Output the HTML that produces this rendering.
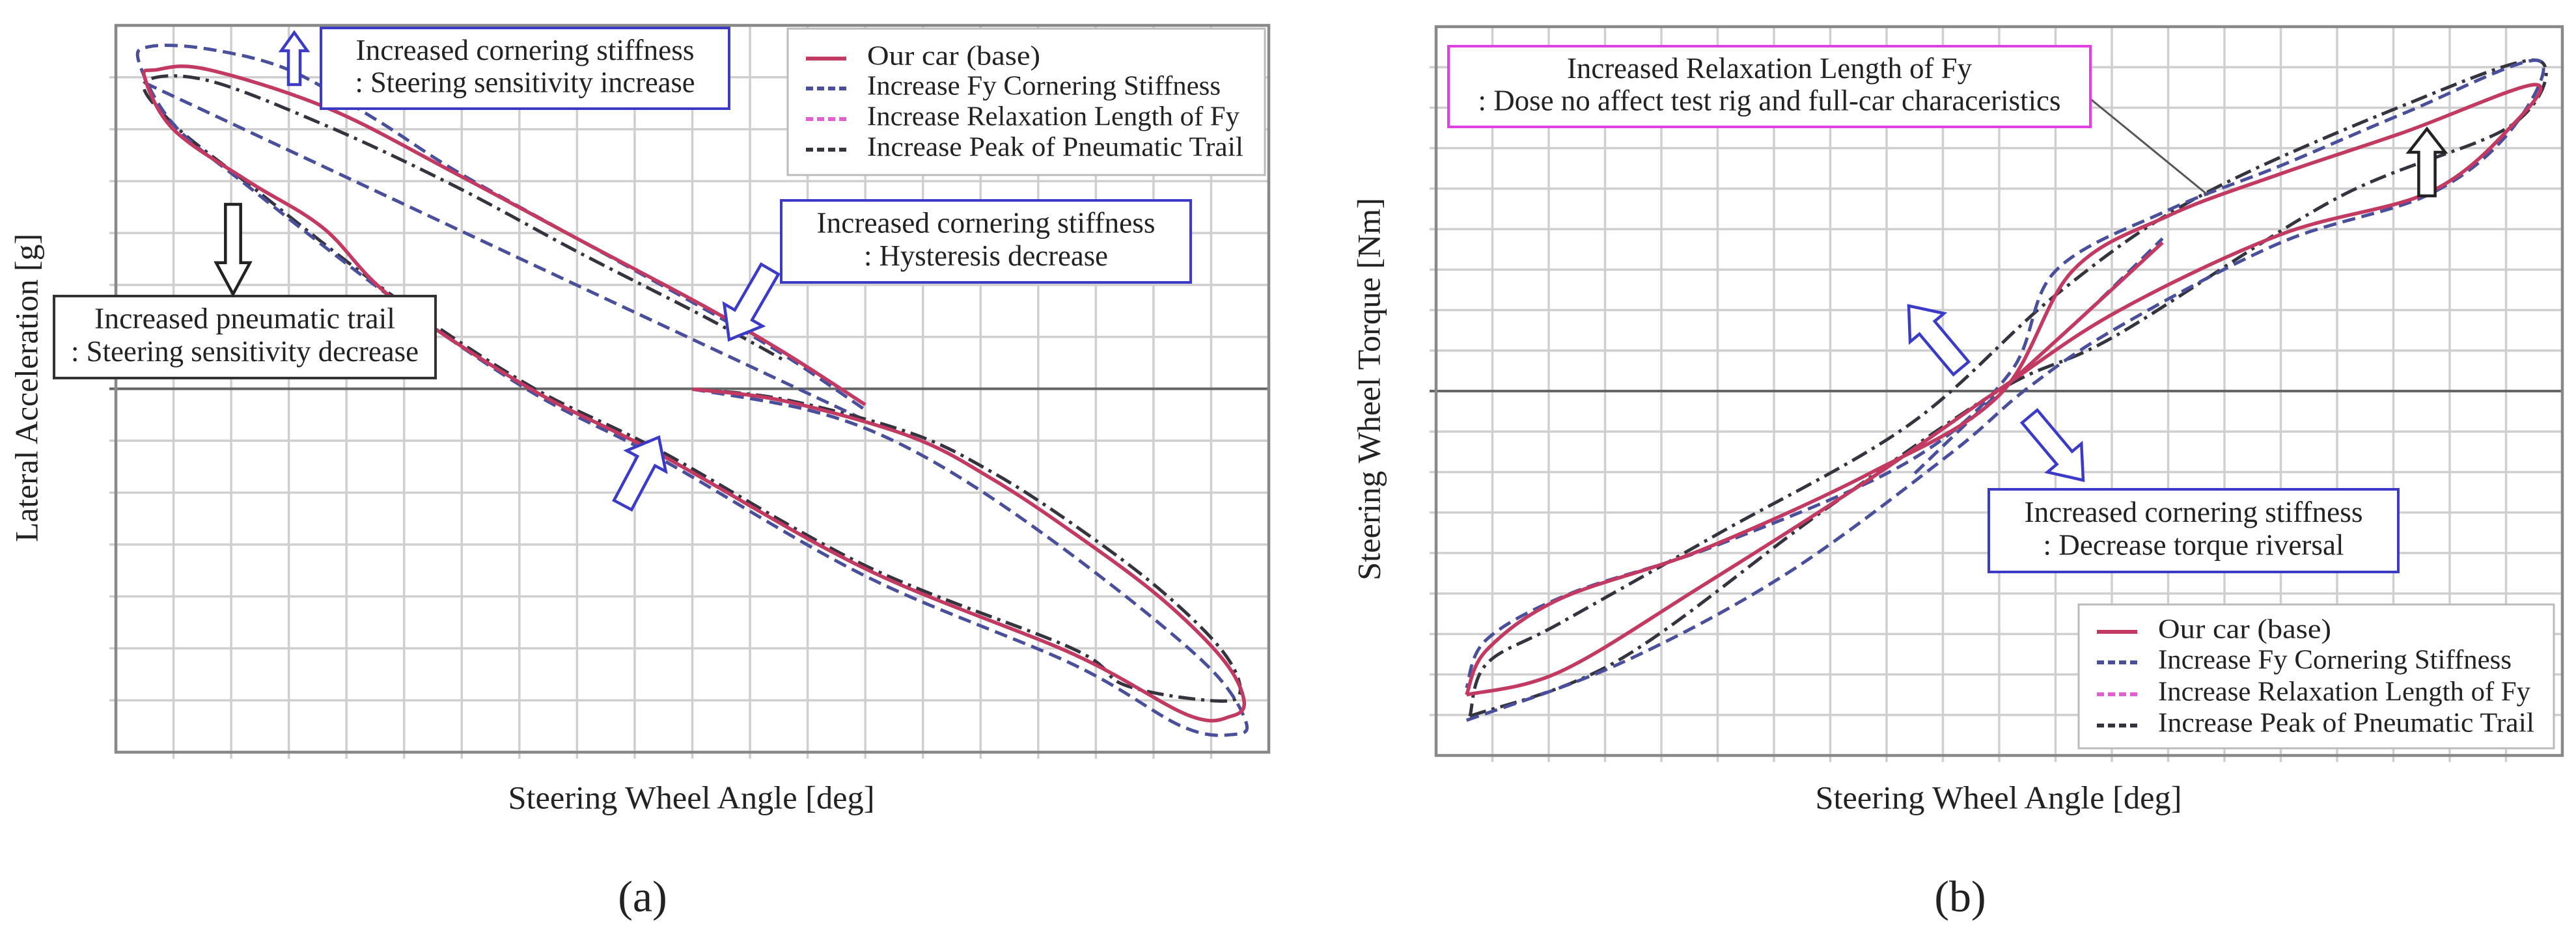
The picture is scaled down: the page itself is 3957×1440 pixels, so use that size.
<!DOCTYPE html>
<html><head><meta charset="utf-8"><style>
html,body{margin:0;padding:0;background:#fff;}
svg{display:block;}
text{font-family:"Liberation Serif",serif;fill:#222;}
</style></head><body>
<svg id="fig" width="3957" height="1440" viewBox="0 0 3957 1440" xmlns="http://www.w3.org/2000/svg">
<g id="pa"></g>
<g id="pb"></g>
</svg>
<script>
// ---- Panel (a) data: [grid column, grid row value] ----
const aRedX=[10,11.6,13.8,15.2,16.6,18.1,19.2,19.57,19.35,18.6,16.6,13,9.46,7.2,4.8,3.6,2.3,1,0.5,0.7,1.58,3.7,5.9,8,10.2,11.6,13];
const aRedY=[0,-0.23,-0.92,-1.73,-2.76,-4.0,-5.2,-6.0,-6.3,-6.28,-5.1,-3.46,-1.27,0,1.75,3.1,4.0,5.0,6.0,6.15,6.16,5.4,4.15,2.9,1.6,0.7,-0.3];
const aBlueX=[10,12,13.5,15.2,17.3,19,19.6,19.4,18.5,16.6,13,9.46,7.2,4.8,2.3,1,0.4,0.6,1.6,3,4.5,5.9,8,10.2,11.6,13];
const aBlueY=[0,-0.4,-1.0,-2.1,-3.8,-5.4,-6.4,-6.65,-6.5,-5.3,-3.6,-1.35,-0.05,1.75,3.9,5.1,6.3,6.6,6.55,6.15,5.2,4.2,2.9,1.55,0.65,-0.4];
const aBlue2X=[0.5,13];
const aBlue2Y=[5.9,-0.6];
const aBlackX=[10,11.6,13.8,15.2,16.6,18.1,19.2,19.5,19.0,17.5,16.6,13,9.46,7.2,4.8,2.3,1,0.5,1.58,3.7,5.9,8,10.2,11.6];
const aBlackY=[0,-0.2,-0.85,-1.6,-2.6,-3.85,-5.05,-5.85,-6.0,-5.7,-5.0,-3.4,-1.2,0.05,1.8,3.95,5.1,5.9,5.95,5.05,3.9,2.65,1.4,0.55];
// ---- Panel (b) data ----
const bRedX=[0.54,0.9,2.2,4.7,7.7,10,11.3,13,15,17.2,19.5,19.1,17.65,15,12.1,10,7.7,4.7,2.2,0.54];
const bRedY=[-7.47,-6.36,-5.1,-3.9,-2.0,-0.07,3.0,4.36,5.4,6.43,7.6,6.58,4.95,3.9,2.0,0.07,-2.14,-4.8,-6.9,-7.47];
const bRed2X=[10,11.5,12.9];
const bRed2Y=[0,1.9,3.7];
const bBlueX=[0.54,3.26,6.2,9.1,10.5,12.1,15,17.65,19.1,19.56,17.2,15,13,11,10.2,8.4,5,2.4,0.9,0.54];
const bBlueY=[-8.1,-6.7,-4.5,-1.55,0.1,1.6,3.7,4.9,6.5,8.2,6.9,5.6,4.5,3.0,0.5,-1.7,-3.77,-4.96,-6.1,-7.3];
const bBlue2X=[8.5,10,11.5,12.9];
const bBlue2Y=[-2.0,0,1.9,3.8];
const bBlackX=[0.6,3.26,6.9,10,12.07,16,19.1,19.56,17.2,13.5,11,8.4,5,2.2,0.9,0.6];
const bBlackY=[-8.0,-6.6,-2.9,0.05,1.4,4.8,6.6,8.2,7.1,4.8,2.4,-0.8,-3.5,-5.7,-6.7,-8.0];
const legendLabels=["Our car (base)","Increase Fy Cornering Stiffness","Increase Relaxation Length of Fy","Increase Peak of Pneumatic Trail"];

const NS="http://www.w3.org/2000/svg";
function mk(parent,tag,attrs){const e=document.createElementNS(NS,tag);for(const k in attrs)e.setAttribute(k,attrs[k]);parent.appendChild(e);return e;}
function smooth(pts){let d="M"+pts[0][0]+","+pts[0][1];for(let i=0;i<pts.length-1;i++){const p0=pts[i-1]||pts[i],p1=pts[i],p2=pts[i+1],p3=pts[i+2]||p2;d+=" C"+(p1[0]+(p2[0]-p0[0])/6)+","+(p1[1]+(p2[1]-p0[1])/6)+" "+(p2[0]-(p3[0]-p1[0])/6)+","+(p2[1]-(p3[1]-p1[1])/6)+" "+p2[0]+","+p2[1];}return d;}
const STY={red:{stroke:"#c23a62",dash:"",w:5.5},blue:{stroke:"#4a4f9c",dash:"20 10",w:5},black:{stroke:"#34343f",dash:"26 9 5 9",w:5},mag:{stroke:"#e060d0",dash:"12 6",w:5}};
function series(g,xs,ys,X,Y,st,name){const pts=xs.map((v,i)=>[X(v),Y(ys[i])]);const p=mk(g,"path",{d:smooth(pts),fill:"none",stroke:st.stroke,"stroke-width":st.w,"stroke-dasharray":st.dash,"stroke-linejoin":"round"});

}
function txt(g,x,y,s,size,len,name,anchor,rot){const t=mk(g,"text",{x:x,y:y,"font-size":size,"text-anchor":anchor||"middle","dominant-baseline":"middle"});if(len){t.setAttribute("textLength",len);t.setAttribute("lengthAdjust","spacingAndGlyphs");}if(rot)t.setAttribute("transform",rot);t.textContent=s;

return t;}
function frame(g,L,R,T,B,cols,rows,zeroRow){
 for(let i=1;i<cols;i++){const x=L+(R-L)*i/cols;const l=mk(g,"line",{x1:x,x2:x,y1:T,y2:B+10,stroke:"#cfcfcf","stroke-width":3.5});
 
 }
 for(let j=1;j<rows;j++){const y=T+(B-T)*j/rows;const l=mk(g,"line",{x1:L-10,x2:R,y1:y,y2:y,stroke:j===zeroRow?"#666":"#cfcfcf","stroke-width":j===zeroRow?4:3.5});
 
 }
 const r=mk(g,"rect",{x:L,y:T,width:R-L,height:B-T,fill:"none",stroke:"#888","stroke-width":4.5});
 
 
}
function box(g,x,y,w,h,color,lines,size,len,name){const b=mk(g,"g",{});
 mk(b,"rect",{x:x,y:y,width:w,height:h,fill:"#fff",stroke:color,"stroke-width":4});
 lines.forEach((s,i)=>txt(b,x+w/2,y+h*(i===0?0.31:0.71),s,size,len[i],name+'-line-'+(i+1)));}
function arrow(g,tx,ty,ang,len,w,color,name){
 const hw=w,sw=w*0.45,hl=len*0.35;
 const pts=[[0,0],[hw,hl],[sw,hl],[sw,len],[-sw,len],[-sw,hl],[-hw,hl]].map(p=>p.join(",")).join(" ");
 const p=mk(g,"polygon",{points:pts,fill:"#fff",stroke:color,"stroke-width":4.5,transform:"translate("+tx+","+ty+") rotate("+ang+")"});
 
 }
function legend(g,x,y,w,h,rowY){const lg=mk(g,"g",{});
 mk(lg,"rect",{x:x,y:y,width:w,height:h,fill:"#fff",stroke:"#bbb","stroke-width":3});
 const sts=[STY.red,STY.blue,STY.mag,STY.black];
 legendLabels.forEach((s,i)=>{const yy=rowY[i];const l=mk(lg,"line",{x1:x+28,x2:x+90,y1:yy,y2:yy,stroke:sts[i].stroke,"stroke-width":6,"stroke-dasharray":i?"11 6":""});
 
 
 txt(lg,x+122,yy,s,42,[266,543,572,578][i],'legend-entry','start');});}

// ===== Panel A =====
const ga=document.getElementById("pa");
const aL=178,aR=1949,aT=39,aB=1156;
const xA=c=>aL+c*(aR-aL)/20, yA=v=>598-v*(aB-aT)/14;
frame(ga,aL,aR,aT,aB,20,14,7);
series(ga,aBlue2X,aBlue2Y,xA,yA,STY.blue,"series-a-cornering-stiffness-diagonal");
series(ga,aBlackX,aBlackY,xA,yA,STY.black,"series-a-pneumatic-trail");
series(ga,aBlueX,aBlueY,xA,yA,STY.blue,"series-a-cornering-stiffness");
series(ga,aRedX,aRedY,xA,yA,STY.mag,"series-a-relaxation-length");
series(ga,aRedX,aRedY,xA,yA,STY.red,"series-a-base");
legend(ga,1210,44,733,225,[90,136,183,230]);
box(ga,493,43,627,124,"#3b3bc8",["Increased cornering stiffness",": Steering sensitivity increase"],46,[520,522],"annotation-steering-increase");
box(ga,1200,308,629,126,"#3b3bc8",["Increased cornering stiffness",": Hysteresis decrease"],46,[520,375],"annotation-hysteresis");
box(ga,83,455,586,126,"#333",["Increased pneumatic trail",": Steering sensitivity decrease"],46,[462,534],"annotation-pneumatic-trail");
arrow(ga,452,50,0,80,20,"#3b3bc8","arrow-up-a");
arrow(ga,358,452,180,138,26,"#222","arrow-down-a");
arrow(ga,1120,522,-150,125,34,"#3b3bc8","arrow-diag-a");
arrow(ga,1012,672,28,118,34,"#3b3bc8","arrow-up-right-a");
txt(ga,46,596,"Lateral Acceleration [g]",50,474,"y-axis-title-a","middle","rotate(-90 46 596)");
txt(ga,1062,1231,"Steering Wheel Angle [deg]",50,563,"x-axis-title-a");
txt(ga,987,1385,"(a)",68,null,"panel-label-a");

// ===== Panel B =====
const gb=document.getElementById("pb");
const bL=2206,bR=3936,bT=41,bB=1161;
const xB=c=>bL+c*(bR-bL)/20, yB=v=>603-v*(bB-bT)/18;
frame(gb,bL,bR,bT,bB,20,18,9);
series(gb,bBlue2X,bBlue2Y,xB,yB,STY.blue,"series-b-cornering-stiffness-center");
series(gb,bBlackX,bBlackY,xB,yB,STY.black,"series-b-pneumatic-trail");
series(gb,bBlueX,bBlueY,xB,yB,STY.blue,"series-b-cornering-stiffness");
series(gb,bRedX,bRedY,xB,yB,STY.mag,"series-b-relaxation-length");
series(gb,bRedX,bRedY,xB,yB,STY.red,"series-b-base");
series(gb,bRed2X,bRed2Y,xB,yB,STY.red,"series-b-base-tail");
const ll=mk(gb,"line",{x1:3211,y1:152,x2:3392,y2:300,stroke:"#555","stroke-width":3});


box(gb,2225,71,986,124,"#e040e0",["Increased Relaxation Length of Fy",": Dose no affect test rig and full-car characeristics"],46,[622,895],"annotation-relaxation-length");
box(gb,3055,752,629,127,"#3b3bc8",["Increased cornering stiffness",": Decrease torque riversal"],46,[520,462],"annotation-torque-reversal");
legend(gb,3193,929,730,221,[971,1018,1067,1115]);
arrow(gb,2932,470,-40,125,34,"#3b3bc8","arrow-up-left-b");
arrow(gb,3200,738,140,128,34,"#3b3bc8","arrow-down-right-b");
arrow(gb,3728,198,0,103,28,"#222","arrow-up-b");
txt(gb,2108,598,"Steering Wheel Torque [Nm]",50,588,"y-axis-title-b","middle","rotate(-90 2108 598)");
txt(gb,3070,1231,"Steering Wheel Angle [deg]",50,563,"x-axis-title-b");
txt(gb,3011,1385,"(b)",68,null,"panel-label-b");
</script>
</body></html>
